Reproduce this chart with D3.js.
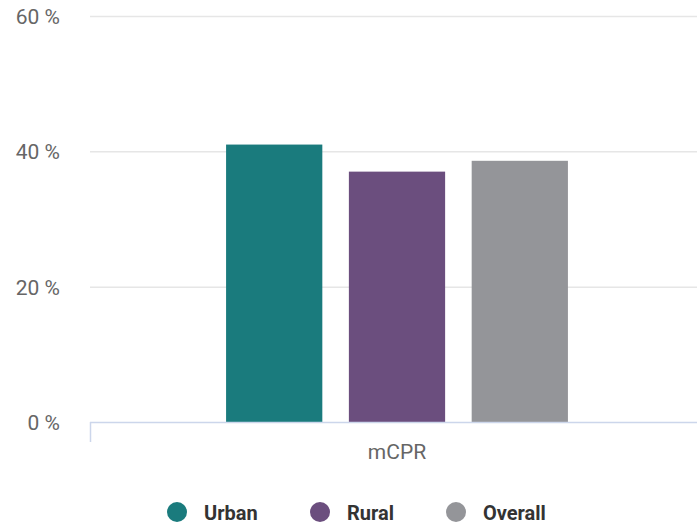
<!DOCTYPE html>
<html><head><meta charset="utf-8">
<script src="https://cdn.jsdelivr.net/npm/d3@7"></script>
<style>body{margin:0;background:#fff;}svg{display:block;font-family:Roboto,sans-serif;}</style>
</head><body>
<svg id="c" width="697" height="525"></svg>
<script>
const categories = ["mCPR"];
const seriesNames = ["Urban", "Rural", "Overall"];
const seriesColors = ["#1a7b7d", "#6b4e7e", "#949599"];
const urbanValues = [41.0];
const ruralValues = [37.0];
const overallValues = [38.6];
const yTicks = [0, 20, 40, 60];
const allValues = [urbanValues, ruralValues, overallValues];

(function () {
const svg = d3.select("#c");
const pLeft = 90, pRight = 704, pTop = 16, pBottom = 422;
const y = d3.scaleLinear().domain([0, 60]).range([pBottom, pTop]);
const x0b = d3.scaleBand().domain(categories).range([pLeft, pRight]);

// gridlines
svg.append("g").selectAll("line").data(yTicks.filter(t => t > 0)).join("line")
  .attr("x1", pLeft).attr("x2", 697).attr("y1", d => y(d) + 0.5).attr("y2", d => y(d) + 0.5)
  .attr("stroke", "#e6e6e6").attr("stroke-width", 1.5);

// y labels
svg.append("g").selectAll("text").data(yTicks).join("text")
  .attr("x", 60).attr("y", d => y(d) + 8).attr("text-anchor", "end")
  .attr("fill", "#666").attr("font-size", 21).text(d => d + " %");

// bars
categories.forEach((c, ci) => {
  const gStart = x0b(c) + x0b.bandwidth() * 0.2;
  const gEnd = x0b(c) + x0b.bandwidth() * 0.8;
  const x1 = d3.scaleBand().domain(seriesNames).range([gStart, gEnd]).paddingInner(0.2).paddingOuter(0.1);
  svg.append("g").selectAll("rect").data(seriesNames).join("rect")
    .attr("x", s => x1(s) + 1).attr("width", x1.bandwidth() - 2)
    .attr("y", (s, i) => y(allValues[i][ci]))
    .attr("height", (s, i) => pBottom - y(allValues[i][ci]))
    .attr("fill", (s, i) => seriesColors[i]);
  svg.append("text").attr("x", x0b(c) + x0b.bandwidth() / 2).attr("y", 459)
    .attr("text-anchor", "middle").attr("fill", "#666").attr("font-size", 21).text(c);
});

// x axis
svg.append("line").attr("x1", pLeft).attr("x2", 697).attr("y1", pBottom + 0.5).attr("y2", pBottom + 0.5)
  .attr("stroke", "#ccd6eb").attr("stroke-width", 1.5);
svg.append("line").attr("x1", pLeft + 0.5).attr("x2", pLeft + 0.5).attr("y1", pBottom).attr("y2", 442)
  .attr("stroke", "#ccd6eb").attr("stroke-width", 1.5);

// legend
const legX = [177, 320, 456];
const lg = svg.append("g").selectAll("g").data(seriesNames).join("g")
  .attr("transform", (d, i) => `translate(${legX[i]},512)`);
lg.append("circle").attr("r", 10).attr("fill", (d, i) => seriesColors[i]);
lg.append("text").attr("x", 27).attr("y", 8).attr("font-size", 20).attr("font-weight", "bold")
  .attr("fill", "#333").text(d => d);
})();
</script>
</body></html>
